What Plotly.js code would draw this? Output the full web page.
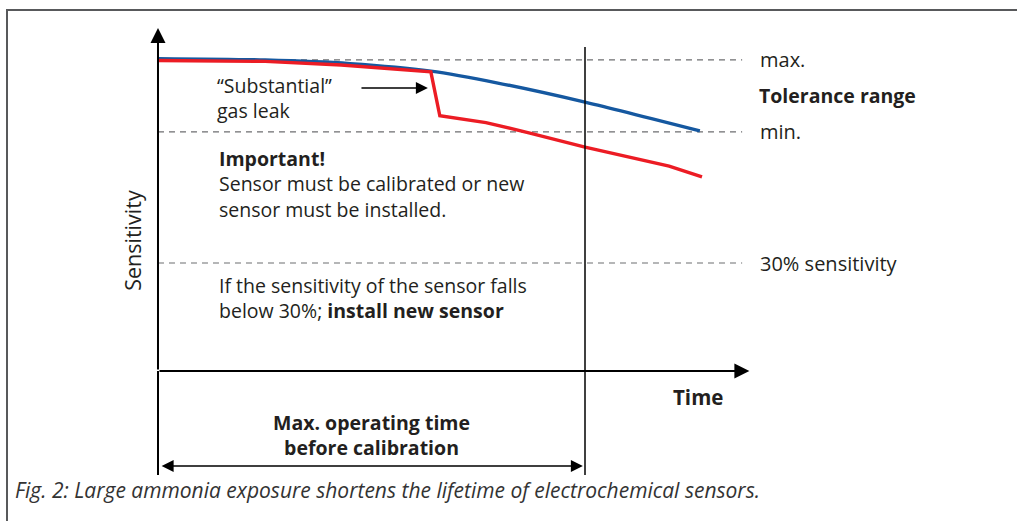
<!DOCTYPE html>
<html>
<head>
<meta charset="utf-8">
<script src="https://cdn.plot.ly/plotly-3.0.1.min.js"></script>
<style>html,body{margin:0;padding:0;background:#fff;}#chart{width:1017px;height:521px;}</style>
</head>
<body>
<div id="chart"></div>
<script>
// Schematic data: time in units where 10 = max. operating time before calibration; sensitivity in %
const blueTime = [0, 2.51, 4.5, 6.39, 7.96, 10, 12.69];
const blueSens = [86.8, 86.4, 85.4, 83.3, 80.0, 74.7, 66.7];
const redTime = [0, 2.51, 4.29, 6.39, 6.6, 7.68, 8.71, 10, 11.97, 12.74];
const redSens = [86.25, 86.0, 85.0, 83.1, 70.9, 69.0, 66.1, 62.2, 56.9, 53.9];
const levelNames = ["max.", "min.", "30% sensitivity"];
const levelValues = [86.4, 66.4, 30];
const maxOperatingTime = 10;
const leakTime = 6.4;
const leakLevel = 78.6;

const FONT = "Open Sans, Noto Sans, sans-serif";
const TXT = "#231f20";
const lineEnd = 13.68, axisEnd = 13.85, yAxisTop = 95.3, lowEnd = -28.9;
const PXY = 3.6; // pixels per sensitivity unit

const traces = [
  {x: blueTime, y: blueSens, mode: "lines", line: {color: "#1558a0", width: 3.3, shape: "spline", smoothing: 0.8}, hoverinfo: "skip"},
  {x: redTime, y: redSens, mode: "lines", line: {color: "#ec1c24", width: 3.4}, hoverinfo: "skip"}
];

const shapes = [];
levelValues.forEach(v => shapes.push({type: "line", xref: "x", yref: "y", x0: 0, x1: lineEnd, y0: v, y1: v, line: {color: "#6d6e70", width: 1.2, dash: "6px,5px"}, layer: "below"}));
shapes.push({type: "line", xref: "x", yref: "y", x0: maxOperatingTime, x1: maxOperatingTime, y0: lowEnd, y1: 90, line: {color: "#000", width: 1.5}});
shapes.push({type: "line", xref: "x", yref: "y", x0: 0, x1: 0, y0: lowEnd, y1: 0, line: {color: "#000", width: 2}});
shapes.push({type: "line", xref: "paper", yref: "paper", x0: 6/1017, x1: 1, y0: 1 - 10/521, y1: 1 - 10/521, line: {color: "#58595b", width: 2}});
shapes.push({type: "line", xref: "paper", yref: "paper", x0: 7/1017, x1: 7/1017, y0: 0, y1: 1 - 10/521, line: {color: "#58595b", width: 2}});

const ann = [];
function arrow(x, y, ax, ay, w, side) {
  ann.push({x: x, y: y, ax: ax, ay: ay, xref: "x", yref: "y", axref: "x", ayref: "y", text: "", showarrow: true,
    arrowhead: 2, arrowsize: 1.5, arrowwidth: w, arrowcolor: "#000", standoff: 0, startstandoff: 0,
    arrowside: side || "end", startarrowhead: 2, startarrowsize: 1.5});
}
arrow(0, yAxisTop, 0, 0, 2);
arrow(axisEnd, 0, 0, 0, 2);
arrow(leakTime - 0.08, leakLevel, 4.73, leakLevel, 1.6);
arrow(maxOperatingTime - 0.05, -26.4, 0.05, -26.4, 1.6, "end+start");

function txt(x, y, text, opts) {
  ann.push(Object.assign({x: x, y: y, xref: "x", yref: "y", text: text, showarrow: false,
    xanchor: "left", yanchor: "middle", align: "left", font: {family: FONT, size: 19.5, color: TXT}}, opts || {}));
}
levelNames.forEach((n, i) => txt(14.05, levelValues[i], n, {font: {family: FONT, size: 20, color: TXT}}));
txt(14.02, 76.4, "<b>Tolerance range</b>");
txt(12.65, -7.2, "<b>Time</b>", {xanchor: "center", font: {family: FONT, size: 20.5, color: TXT}});
txt(1.33, (371 - 97.5) / PXY, "\u201cSubstantial\u201d<br>gas leak");
txt(1.38, (371 - 184) / PXY, "<b>Important!</b><br>Sensor must be calibrated or new<br>sensor must be installed.");
txt(1.38, (371 - 297.5) / PXY, "If the sensitivity of the sensor falls<br>below 30%; <b>install new sensor</b>");
txt(5.0, (371 - 435.5) / PXY, "<b>Max. operating time<br>before calibration</b>", {xanchor: "center", align: "center"});
txt(-0.59, 36.4, "Sensitivity", {xanchor: "center", textangle: -90, font: {family: FONT, size: 21.5, color: TXT}});
ann.push({xref: "paper", yref: "paper", x: 13/1017, y: 1 - 490/521, xanchor: "left", yanchor: "middle", showarrow: false,
  text: "<i>Fig. 2: Large ammonia exposure shortens the lifetime of electrochemical sensors.</i>",
  font: {family: FONT, size: 21, color: "#333"}});

const layout = {
  width: 1017, height: 521, margin: {l: 0, r: 0, t: 0, b: 0},
  paper_bgcolor: "#fff", plot_bgcolor: "#fff", showlegend: false,
  xaxis: {range: [-3.700, 20.117], visible: false, fixedrange: true},
  yaxis: {range: [-41.67, 103.06], visible: false, fixedrange: true},
  shapes: shapes, annotations: ann
};
Plotly.newPlot("chart", traces, layout, {staticPlot: true});
</script>
</body>
</html>
